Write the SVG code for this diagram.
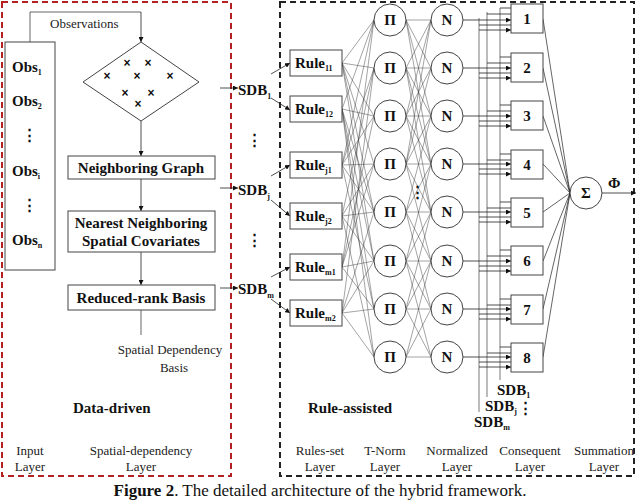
<svg xmlns="http://www.w3.org/2000/svg" width="640" height="504" viewBox="0 0 640 504">
<defs>
<marker id="a" viewBox="0 0 6 6" refX="6" refY="3" markerWidth="5" markerHeight="5" markerUnits="userSpaceOnUse" orient="auto"><path d="M0 0L6 3L0 6z" fill="#111"/></marker>
<style>
.b{fill:#fff;stroke:#444;stroke-width:1}
.t{font-family:"Liberation Serif",serif;font-weight:bold;font-size:15px;fill:#111}
.s{font-family:"Liberation Serif",serif;font-size:13px;fill:#222}
.c{fill:#fff;stroke:#444;stroke-width:1}
.l{stroke:#222;stroke-width:0.7;fill:none}
.la{stroke:#222;stroke-width:0.8;fill:none;marker-end:url(#a)}
.sub{font-size:8px}
</style>
</defs>
<rect x="2" y="2" width="229" height="474" fill="none" stroke="#b22222" stroke-width="2" stroke-dasharray="6,4"/>
<rect x="280" y="2" width="354" height="474" fill="none" stroke="#222" stroke-width="2" stroke-dasharray="6,4"/>

<g id="connectors">
<path class="l" d="M30 42V12H141"/><path class="la" d="M141 12V42"/>
<path class="la" d="M141 121V156"/><path class="la" d="M141 179V211"/><path class="la" d="M141 252V285"/>
<path class="l" d="M141 310V335"/>
<path class="la" d="M220 88H238"/><path class="la" d="M220 188H238"/><path class="la" d="M220 288H238"/>
<path class="la" d="M271 74L290 63"/><path class="la" d="M271 98L290 110"/>
<path class="la" d="M271 176L290 165"/><path class="la" d="M271 200L290 216"/>
<path class="la" d="M271 277L290 267"/><path class="la" d="M271 299L290 313"/>
<path stroke="#333" stroke-width="0.45" fill="none" d="M342 63L374 20M342 63L374 68M342 63L374 116M342 63L374 164M342 63L374 212M342 63L374 261M342 109L374 20M342 109L374 116M342 109L374 212M342 109L374 261M342 109L374 309M342 109L374 357M342 165L374 20M342 165L374 68M342 165L374 116M342 165L374 164M342 165L374 212M342 165L374 309M342 216L374 68M342 216L374 164M342 216L374 212M342 216L374 261M342 216L374 357M342 267L374 20M342 267L374 116M342 267L374 164M342 267L374 261M342 267L374 309M342 313L374 68M342 313L374 212M342 313L374 261M342 313L374 309M342 313L374 357"/>
<path stroke="#333" stroke-width="0.45" fill="none" d="M406 20L431 20M406 20L431 68M406 20L431 116M406 20L431 164M406 68L431 20M406 68L431 68M406 68L431 116M406 68L431 164M406 68L431 212M406 116L431 20M406 116L431 68M406 116L431 116M406 116L431 164M406 116L431 212M406 164L431 20M406 164L431 68M406 164L431 116M406 164L431 164M406 164L431 212M406 164L431 261M406 212L431 116M406 212L431 164M406 212L431 212M406 212L431 261M406 212L431 309M406 261L431 164M406 261L431 212M406 261L431 261M406 261L431 309M406 261L431 357M406 309L431 212M406 309L431 261M406 309L431 309M406 309L431 357M406 357L431 261M406 357L431 309M406 357L431 357"/>
<path stroke="#555" stroke-width="0.8" fill="none" d="M479 18V412M487 12V397M500 8V380"/>
<path class="la" d="M463 20H511"/><path class="la" d="M463 68H511"/><path class="la" d="M463 116H511"/><path class="la" d="M463 164H511"/><path class="la" d="M463 212H511"/><path class="la" d="M463 261H511"/><path class="la" d="M463 309H511"/><path class="la" d="M463 357H511"/>
<path class="la" d="M500 8H511M487 14H511M479 25H511M479 30H511"/>
<path class="la" d="M500 57H511M487 63H511M479 73H511M479 78H511"/>
<path class="la" d="M500 105H511M487 111H511M479 121H511M479 126H511"/>
<path class="la" d="M500 154H511M487 160H511M479 169H511M479 174H511"/>
<path class="la" d="M500 202H511M487 208H511M479 217H511M479 222H511"/>
<path class="la" d="M500 250H511M487 256H511M479 266H511M479 271H511"/>
<path class="la" d="M500 299H511M487 305H511M479 314H511M479 319H511"/>
<path class="la" d="M500 347H511M487 353H511M479 362H511M479 367H511"/>
<path class="l" d="M543 19L570 193M543 68L570 193M543 116L570 193M543 164L570 193M543 212L570 193M543 261L570 193M543 309L570 193M543 357L570 193"/>
<path class="la" d="M602 193H636"/>
</g>

<g id="obs"><rect class="b" x="5" y="42" width="50" height="228"/>
<text class="t" x="12" y="72">Obs<tspan class="sub" dy="3">1</tspan></text>
<text class="t" x="12" y="106">Obs<tspan class="sub" dy="3">2</tspan></text>
<text class="t" x="22" y="140">⋮</text>
<text class="t" x="12" y="176">Obs<tspan class="sub" dy="3">i</tspan></text>
<text class="t" x="22" y="210">⋮</text>
<text class="t" x="12" y="245">Obs<tspan class="sub" dy="3">n</tspan></text></g>
<text class="s" x="50" y="28">Observations</text>
<g id="diamond"><path class="b" d="M141 42L199 82L141 121L83 82Z"/>
<g font-family="Liberation Sans,sans-serif" font-size="12" font-weight="bold" text-anchor="middle" fill="#111">
<text x="127" y="67">×</text><text x="148" y="67">×</text><text x="107" y="80">×</text><text x="137" y="80">×</text><text x="170" y="80">×</text><text x="125" y="97">×</text><text x="151" y="97">×</text><text x="138" y="108">×</text></g></g>
<g id="ng"><rect class="b" x="68" y="156" width="147" height="23"/><text class="t" x="141" y="173" text-anchor="middle">Neighboring Graph</text></g>
<g id="nn"><rect class="b" x="68" y="211" width="147" height="41"/><text class="t" x="141" y="228" text-anchor="middle">Nearest Neighboring</text><text class="t" x="141" y="246" text-anchor="middle">Spatial Covariates</text></g>
<g id="rr"><rect class="b" x="68" y="285" width="147" height="25"/><text class="t" x="141" y="303" text-anchor="middle">Reduced-rank Basis</text></g>
<text class="s" x="170" y="354" text-anchor="middle">Spatial Dependency</text>
<text class="s" x="174" y="372" text-anchor="middle">Basis</text>
<text class="t" x="73" y="413" font-size="13">Data-driven</text>

<g id="sdb" class="t">
<text x="238" y="95">SDB<tspan class="sub" dy="4">1</tspan></text>
<text x="247" y="145">⋮</text>
<text x="238" y="195">SDB<tspan class="sub" dy="4">j</tspan></text>
<text x="247" y="245">⋮</text>
<text x="238" y="294">SDB<tspan class="sub" dy="4">m</tspan></text></g>

<g id="rules">
<rect class="b" x="290" y="50" width="52" height="26"/><text class="t" x="295" y="68">Rule<tspan class="sub" dy="3">11</tspan></text>
<rect class="b" x="290" y="96" width="52" height="26"/><text class="t" x="295" y="114">Rule<tspan class="sub" dy="3">12</tspan></text>
<rect class="b" x="290" y="152" width="52" height="26"/><text class="t" x="295" y="170">Rule<tspan class="sub" dy="3">j1</tspan></text>
<rect class="b" x="290" y="203" width="52" height="26"/><text class="t" x="295" y="221">Rule<tspan class="sub" dy="3">j2</tspan></text>
<rect class="b" x="290" y="254" width="52" height="26"/><text class="t" x="295" y="272">Rule<tspan class="sub" dy="3">m1</tspan></text>
<rect class="b" x="290" y="300" width="52" height="26"/><text class="t" x="295" y="318">Rule<tspan class="sub" dy="3">m2</tspan></text></g>

<g id="pi" class="t" text-anchor="middle">
<circle class="c" cx="390" cy="20" r="16"/><text x="390" y="25">Π</text>
<circle class="c" cx="390" cy="68" r="16"/><text x="390" y="73">Π</text>
<circle class="c" cx="390" cy="116" r="16"/><text x="390" y="121">Π</text>
<circle class="c" cx="390" cy="164" r="16"/><text x="390" y="169">Π</text>
<circle class="c" cx="390" cy="212" r="16"/><text x="390" y="217">Π</text>
<circle class="c" cx="390" cy="261" r="16"/><text x="390" y="266">Π</text>
<circle class="c" cx="390" cy="309" r="16"/><text x="390" y="314">Π</text>
<circle class="c" cx="390" cy="357" r="16"/><text x="390" y="362">Π</text></g>
<text class="t" x="417" y="197" text-anchor="middle">⋮</text>
<g id="n" class="t" text-anchor="middle">
<circle class="c" cx="447" cy="20" r="16"/><text x="447" y="25">N</text>
<circle class="c" cx="447" cy="68" r="16"/><text x="447" y="73">N</text>
<circle class="c" cx="447" cy="116" r="16"/><text x="447" y="121">N</text>
<circle class="c" cx="447" cy="164" r="16"/><text x="447" y="169">N</text>
<circle class="c" cx="447" cy="212" r="16"/><text x="447" y="217">N</text>
<circle class="c" cx="447" cy="261" r="16"/><text x="447" y="266">N</text>
<circle class="c" cx="447" cy="309" r="16"/><text x="447" y="314">N</text>
<circle class="c" cx="447" cy="357" r="16"/><text x="447" y="362">N</text></g>

<g id="cons" class="t" text-anchor="middle">
<rect class="b" x="511" y="4" width="32" height="29"/><text x="527" y="24">1</text>
<rect class="b" x="511" y="53" width="32" height="29"/><text x="527" y="73">2</text>
<rect class="b" x="511" y="101" width="32" height="29"/><text x="527" y="121">3</text>
<rect class="b" x="511" y="150" width="32" height="29"/><text x="527" y="170">4</text>
<rect class="b" x="511" y="198" width="32" height="29"/><text x="527" y="218">5</text>
<rect class="b" x="511" y="246" width="32" height="29"/><text x="527" y="266">6</text>
<rect class="b" x="511" y="295" width="32" height="29"/><text x="527" y="315">7</text>
<rect class="b" x="511" y="343" width="32" height="29"/><text x="527" y="363">8</text></g>
<g id="sum"><circle class="c" cx="586" cy="193" r="16"/><text class="t" x="586" y="198" text-anchor="middle">Σ</text></g>
<text class="t" x="608" y="188">Φ</text>
<g class="t" font-size="13">
<text x="497" y="395">SDB<tspan class="sub" dy="3">1</tspan></text>
<text x="485" y="411">SDB<tspan class="sub" dy="3">j</tspan></text>
<text x="518" y="413">⋮</text>
<text x="474" y="427">SDB<tspan class="sub" dy="3">m</tspan></text>
<text x="308" y="413">Rule-assisted</text></g>
<g class="s" text-anchor="middle">
<text x="30" y="455">Input</text><text x="30" y="471">Layer</text>
<text x="141" y="455">Spatial-dependency</text><text x="141" y="471">Layer</text>
<text x="320" y="455">Rules-set</text><text x="320" y="471">Layer</text>
<text x="385" y="455">T-Norm</text><text x="385" y="471">Layer</text>
<text x="457" y="455">Normalized</text><text x="457" y="471">Layer</text>
<text x="530" y="455">Consequent</text><text x="530" y="471">Layer</text>
<text x="604" y="455">Summation</text><text x="604" y="471">Layer</text></g>
<text x="320" y="496" text-anchor="middle" font-family="Liberation Serif,serif" font-size="17" fill="#111"><tspan font-weight="bold">Figure 2</tspan>. The detailed architecture of the hybrid framework.</text>
</svg>
